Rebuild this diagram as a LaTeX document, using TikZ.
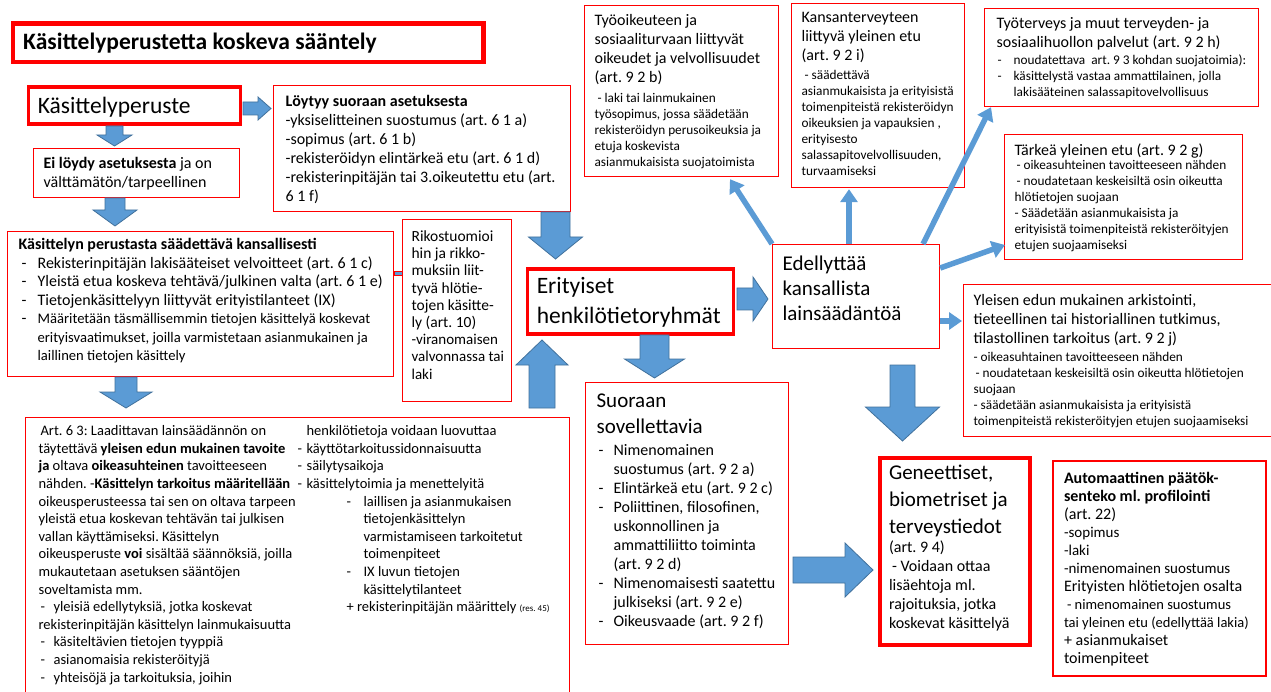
\documentclass[tikz,border=0pt]{standalone}
\usepackage{fontspec}
\setmainfont{Carlito}
\usetikzlibrary{arrows.meta,calc}
\definecolor{ablue}{HTML}{5B9BD5}
\definecolor{adark}{HTML}{41719C}
\newcommand\szL{\fontsize{23.5}{26}\selectfont}
\newcommand\szK{\fontsize{21}{26}\selectfont}
\newcommand\szM{\fontsize{16}{19}\selectfont}
\newcommand\szS{\fontsize{13.3}{16}\selectfont}
\newcommand\szB{\fontsize{14.5}{17.6}\selectfont}
% text box content: width, height, first-baseline depth, content
\newcommand\tb[4]{\makebox[#1][l]{\begin{minipage}[t][#2][t]{\dimexpr#1+150pt\relax}\raggedright\frenchspacing\rule{0pt}{#3}#4\end{minipage}}}
% dash item: dash offset, text indent, text (\\ keeps the hanging indent)
\newcommand\dsh[3]{\par\hangindent=#2\hangafter=1\noindent\makebox[#2][l]{\hspace*{#1}-}{\let\\\newline#3}}
% block arrow: x, y, angle, length, stem half width, head half width, head length
\newcommand\barr[7]{\filldraw[blockarrow,shift={(#1,#2)},rotate=#3] (0,-#5) -- ({#4-#7},-#5) -- ({#4-#7},-#6) -- (#4,0) -- ({#4-#7},#6) -- ({#4-#7},#5) -- (0,#5) -- cycle;}
\tikzset{
  rbox/.style={draw=red, line width=1.2pt, anchor=north west, inner ysep=0pt, align=left, font=\szM},
  tbox/.style={rbox, line width=3.5pt},
  blockarrow/.style={fill=ablue, draw=adark, line width=0.8pt, line join=miter},
  tarrow/.style={draw=ablue, line width=5.5pt, -{Triangle[width=17pt,length=13pt]}},
}
\begin{document}
\frenchspacing
\begin{tikzpicture}[x=1pt,y=-1pt]
\fill[white] (0,0) rectangle (1271,692);
\useasboundingbox (0,0) rectangle (1271,692);

% title
\node[tbox, line width=4.5pt, inner xsep=10.5pt] (title) at (10.5,21.5)
  {\tb{449.5pt}{38.5pt}{25.5pt}{\szL\bfseries Käsittelyperustetta koskeva sääntely}};

% left column
\node[tbox, inner xsep=9.5pt] (kp) at (26.5,85.5)
  {\tb{193pt}{37pt}{26.5pt}{\szL Käsittelyperuste}};
\node[rbox, inner xsep=10pt] (ei) at (33,148)
  {\tb{186pt}{49pt}{20pt}{\textbf{Ei löydy asetuksesta} ja on\\välttämätön/tarpeellinen}};
\node[rbox, inner xsep=12pt] (loy) at (273,85)
  {\tb{273pt}{126pt}{21pt}{\textbf{Löytyy suoraan asetuksesta}\\-yksiselitteinen suostumus (art. 6 1 a)\\-sopimus (art. 6 1 b)\\-rekisteröidyn elintärkeä etu (art. 6 1 d)\\-rekisterinpitäjän tai 3.oikeutettu etu (art.\\6 1 f)}};
\node[rbox, inner xsep=11pt, font=\fontsize{16}{18.5}\selectfont] (kpn) at (7,231)
  {\tb{364pt}{145pt}{18pt}{\textbf{Käsittelyn perustasta säädettävä kansallisesti}%
  \dsh{3pt}{19pt}{Rekisterinpitäjän lakisääteiset velvoitteet (art. 6 1 c)}%
  \dsh{3pt}{19pt}{Yleistä etua koskeva tehtävä/julkinen valta (art. 6 1 e)}%
  \dsh{3pt}{19pt}{Tietojenkäsittelyyn liittyvät erityistilanteet (IX)}%
  \dsh{3pt}{19pt}{\fontsize{14.6}{18.5}\selectfont Määritetään täsmällisemmin tietojen käsittelyä koskevat\\erityisvaatimukset, joilla varmistetaan asianmukainen ja\\laillinen tietojen käsittely}}};
\node[rbox, inner xsep=9pt, font=\fontsize{15.5}{17.2}\selectfont] (rik) at (402,219)
  {\tb{91pt}{182pt}{22pt}{Rikostuomioi\\hin ja rikko-\\muksiin liit-\\tyvä hlötie-\\tojen käsitte-\\ly (art. 10)\par\fontsize{15}{17.2}\selectfont -viranomaisen\\valvonnassa tai\\laki}};
\draw[draw=red, fill=ablue, line width=1pt] ($(kpn.north east)+(0,41)$) rectangle ($(rik.north west)+(0,57)$);

% bottom box
\node[rbox, inner sep=0pt] (art) at (25,417)
  {\begin{minipage}[t][290pt][t]{544pt}\frenchspacing\hspace*{13pt}%
  \makebox[259pt][l]{\begin{minipage}[t]{400pt}\szB\rule{0pt}{18pt}%
  \hspace*{2pt}Art. 6 3: Laadittavan lainsäädännön on\\
  täytettävä \textbf{yleisen edun mukainen tavoite}\\
  \textbf{ja} oltava \textbf{oikeasuhteinen} tavoitteeseen\\
  nähden. -\textbf{Käsittelyn tarkoitus määritellään}\\
  oikeusperusteessa tai sen on oltava tarpeen\\
  yleistä etua koskevan tehtävän tai julkisen\\
  vallan käyttämiseksi. Käsittelyn\\
  oikeusperuste \textbf{voi} sisältää säännöksiä, joilla\\
  mukautetaan asetuksen sääntöjen\\
  soveltamista mm.\\
  \makebox[15pt][l]{\hspace*{2pt}-}yleisiä edellytyksiä, jotka koskevat\\
  rekisterinpitäjän käsittelyn lainmukaisuutta\\
  \makebox[15pt][l]{\hspace*{2pt}-}käsiteltävien tietojen tyyppiä\\
  \makebox[15pt][l]{\hspace*{2pt}-}asianomaisia rekisteröityjä\\
  \makebox[15pt][l]{\hspace*{2pt}-}yhteisöjä ja tarkoituksia, joihin%
  \end{minipage}}%
  \makebox[272pt][l]{\begin{minipage}[t]{400pt}\szB\rule{0pt}{18pt}%
  \hspace*{9pt}henkilötietoja voidaan luovuttaa\\
  \makebox[9pt][l]{-}käyttötarkoitussidonnaisuutta\\
  \makebox[9pt][l]{-}säilytysaikoja\\
  \makebox[9pt][l]{-}käsittelytoimia ja menettelyitä\\
  \hspace*{49pt}\makebox[17pt][l]{-}laillisen ja asianmukaisen\\
  \hspace*{66pt}tietojenkäsittelyn\\
  \hspace*{66pt}varmistamiseen tarkoitetut\\
  \hspace*{66pt}toimenpiteet\\
  \hspace*{49pt}\makebox[17pt][l]{-}IX luvun tietojen\\
  \hspace*{66pt}käsittelytilanteet\\
  \hspace*{49pt}+ rekisterinpitäjän määrittely {\fontsize{9}{10}\selectfont(res. 45)}%
  \end{minipage}}%
  \end{minipage}};

% centre
\node[tbox, inner xsep=9.5pt, font=\fontsize{23.5}{30}\selectfont] (eri) at (525.5,267.5)
  {\tb{187pt}{65pt}{24.5pt}{Erityiset\\henkilötietoryhmät}};
\node[rbox, inner xsep=10pt, font=\fontsize{21}{25}\selectfont] (edel) at (772,244)
  {\tb{147pt}{104pt}{26pt}{Edellyttää\\kansallista\\lainsäädäntöä}};
\node[rbox, inner xsep=11pt] (suo) at (585,382)
  {\tb{181pt}{262pt}{25pt}{{\szK Suoraan\\sovellettavia\par}\vspace{3pt}%
  \dsh{2pt}{17pt}{Nimenomainen\\suostumus (art. 9 2 a)}%
  \dsh{2pt}{17pt}{Elintärkeä etu (art. 9 2 c)}%
  \dsh{2pt}{17pt}{Poliittinen, filosofinen,\\uskonnollinen ja\\ammattiliitto toiminta\\(art. 9 2 d)}%
  \dsh{2pt}{17pt}{Nimenomaisesti saatettu\\julkiseksi (art. 9 2 e)}%
  \dsh{2pt}{17pt}{Oikeusvaade (art. 9 2 f)}}};
\node[tbox, line width=4pt, inner xsep=9pt] (gen) at (878,456)
  {\tb{132pt}{187pt}{21pt}{{\fontsize{21}{27}\selectfont Geneettiset,\\biometriset ja\\terveystiedot\par}(art. 9 4)\\ \hspace*{3pt}- Voidaan ottaa\\lisäehtoja ml.\\rajoituksia, jotka\\koskevat käsittelyä}};
\node[rbox, line width=2pt, inner xsep=11pt, font=\fontsize{16}{18}\selectfont] (aut) at (1052,460)
  {\tb{191pt}{215pt}{22pt}{\textbf{Automaattinen päätök-}\\\textbf{senteko ml. profilointi}\\(art. 22)\\{\fontsize{15}{18}\selectfont -sopimus\\-laki\\-nimenomainen suostumus}\\Erityisten hlötietojen osalta\\{\fontsize{14.5}{18}\selectfont\hspace*{3pt}- nimenomainen suostumus\\tai yleinen etu (edellyttää lakia)}\\+ asianmukaiset\\toimenpiteet}};

% top / right boxes
\node[rbox, inner xsep=10pt] (tyo) at (584,5)
  {\tb{174pt}{171pt}{20pt}{Työoikeuteen ja\\sosiaaliturvaan liittyvät\\oikeudet ja velvollisuudet\\(art. 9 2 b)\par\vspace{4pt}\szS\leavevmode\hspace*{3pt}- laki tai lainmukainen\\työsopimus, jossa säädetään\\rekisteröidyn perusoikeuksia ja\\etuja koskevista\\asianmukaisista suojatoimista}};
\node[rbox, inner xsep=10pt] (kans) at (791,3)
  {\tb{153pt}{184pt}{19pt}{Kansanterveyteen\\liittyvä yleinen etu\\(art. 9 2 i)\par\vspace{3pt}\szS\leavevmode\hspace*{3pt}- säädettävä\\asianmukaisista ja erityisistä\\toimenpiteistä rekisteröidyn\\oikeuksien ja vapauksien ,\\erityisesto\\salassapitovelvollisuuden,\\turvaamiseksi}};
\node[rbox, inner xsep=12pt] (tter) at (984,8)
  {\tb{250pt}{98pt}{20pt}{Työterveys ja muut terveyden- ja\\sosiaalihuollon palvelut (art. 9 2 h)\par\vspace{1pt}\szS%
  \dsh{1pt}{17pt}{noudatettava\ \ art. 9 3 kohdan suojatoimia):}%
  \dsh{1pt}{17pt}{käsittelystä vastaa ammattilainen, jolla\\lakisääteinen salassapitovelvollisuus}}};
\node[rbox, inner xsep=10pt] (tark) at (1004,134)
  {\tb{218pt}{125pt}{21pt}{Tärkeä yleinen etu (art. 9 2 g)\par\vspace{-2pt}\szS\leavevmode\hspace*{2pt}- oikeasuhteinen tavoitteeseen nähden\\ \hspace*{2pt}- noudatetaan keskeisiltä osin oikeutta\\hlötietojen suojaan\\- Säädetään asianmukaisista ja\\erityisistä toimenpiteistä rekisteröityjen\\etujen suojaamiseksi}};
\node[rbox, inner xsep=10pt] (yle) at (963,284)
  {\tb{302pt}{152pt}{21pt}{Yleisen edun mukainen arkistointi,\\tieteellinen tai historiallinen tutkimus,\\tilastollinen tarkoitus (art. 9 2 j)\par\vspace{2pt}\szS - oikeasuhtainen tavoitteeseen nähden\\ \hspace*{2pt}- noudatetaan keskeisiltä osin oikeutta hlötietojen\\suojaan\\- säädetään asianmukaisista ja erityisistä\\toimenpiteistä rekisteröityjen etujen suojaamiseksi}};

% block arrows
\barr{243}{108.5}{0}{28}{6.5}{11.5}{13}
\barr{114.5}{126}{-90}{20}{8.5}{17.5}{11}
\barr{115}{198}{-90}{28}{10}{22}{16}
\barr{126}{377}{-90}{31}{11}{26}{16}
\barr{555.5}{212}{-90}{47}{14.5}{27}{22}
\barr{542}{408}{90}{68}{13}{26}{25}
\barr{654.5}{335}{-90}{43}{14.5}{30}{19}
\barr{737}{299}{0}{31}{11}{22}{15}
\barr{902.5}{365}{-90}{76}{12.5}{37}{34}
\barr{793}{570}{0}{80}{13}{27}{28}

% thin arrows from Edellyttää
\draw[tarrow] (edel.north west) -- ($(tyo.south west)+(146,2)$);
\draw[tarrow] ($(edel.north west)+(77,0)$) -- ($(kans.south west)+(58,1)$);
\draw[tarrow] ($(edel.north west)+(151,0)$) -- ($(tter.south west)+(7,0)$);
\draw[tarrow] ($(edel.north east)+(0,24)$) -- ($(tark.north west)+(1,111)$);
\draw[tarrow] ($(edel.north east)+(0,77)$) -- ($(yle.north west)+(-1,37)$);
\end{tikzpicture}
\end{document}
